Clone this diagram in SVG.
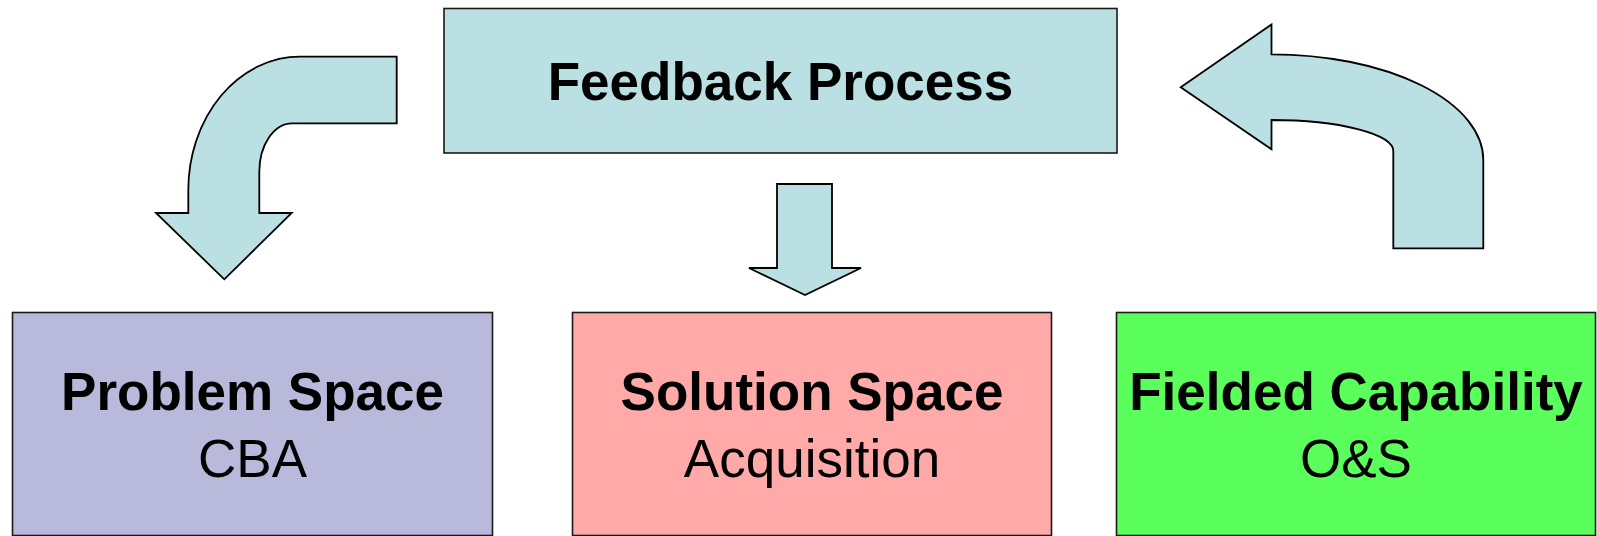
<svg xmlns="http://www.w3.org/2000/svg" width="1597" height="536" viewBox="0 0 1597 536">
<style>
.box{stroke:#1a1a1a;stroke-width:1.6}
.arrow{fill:#BAE0E3;stroke:#000;stroke-width:1.8;stroke-linejoin:miter}
.b{font-family:"Liberation Sans",Arial,sans-serif;font-weight:bold;font-size:53px;fill:#000;text-anchor:middle}
.r{font-family:"Liberation Sans",Arial,sans-serif;font-size:53px;fill:#000;text-anchor:middle}
</style>
<rect width="1597" height="536" fill="#fff"/>
<g id="connectors">
<path class="arrow" d="M 300 56.7 L 396.7 56.7 L 396.7 123.3 L 292 123.3 A 32.7 48.7 0 0 0 259.3 172 L 259.3 213 L 291.7 213 L 224.3 279.3 L 156 213 L 188.3 213 L 188.3 190 A 111.7 133.3 0 0 1 300 56.7 Z"/>
<path class="arrow" d="M 777 184 L 832 184 L 832 268 L 861 268 L 805 295 L 749 268 L 777 268 Z"/>
<path class="arrow" d="M 1180.7 87.3 L 1271.5 24.5 L 1271.5 54.3 A 212 105.7 0 0 1 1483.3 160 L 1483.3 248.3 L 1393.3 248.3 L 1393.3 151 A 121.8 31 0 0 0 1271.5 120 L 1271.5 149.3 Z"/>
</g>
<g id="feedback">
<rect class="box" x="444" y="8.5" width="673" height="144.5" fill="#BAE0E3"/>
<text class="b" x="780.5" y="100">Feedback Process</text>
</g>
<g id="problem">
<rect class="box" x="12.5" y="312.5" width="480" height="223" fill="#B9B9DC"/>
<text class="b" x="252.5" y="410">Problem Space</text>
<text class="r" x="252.5" y="477">CBA</text>
</g>
<g id="solution">
<rect class="box" x="572.5" y="312.5" width="479" height="223" fill="#FFA9A9"/>
<text class="b" x="812" y="410">Solution Space</text>
<text class="r" x="812" y="477">Acquisition</text>
</g>
<g id="fielded">
<rect class="box" x="1116.5" y="312.5" width="479" height="223" fill="#5BFF5B"/>
<text class="b" x="1356" y="410">Fielded Capability</text>
<text class="r" x="1356" y="477">O&amp;S</text>
</g>
</svg>
